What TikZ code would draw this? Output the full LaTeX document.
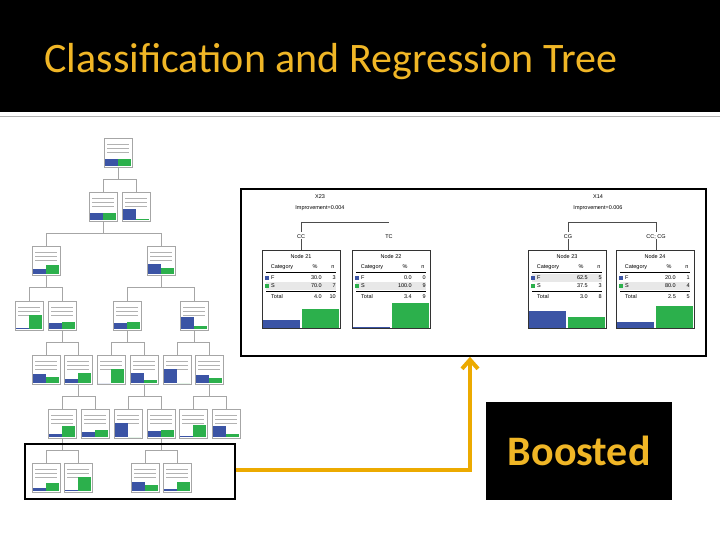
\documentclass[tikz,border=0pt]{standalone}
\usepackage{fontspec}
\setmainfont{Carlito}
\newfontfamily\tabfont{Liberation Sans}
\usetikzlibrary{positioning,calc,arrows.meta}
\definecolor{titlegold}{RGB}{240,182,38}
\definecolor{arrorange}{RGB}{236,170,0}
\definecolor{catblue}{RGB}{59,84,165}
\definecolor{catgreen}{RGB}{44,176,76}

% small tree node: name, x, y, blue bar, green bar
\newcommand{\mininode}[5]{%
  \node[mini] (#1) at (#2,#3) {};
  \draw[gray!60, line width=0.3pt] ($(#1.north west)+(3,6)$) -- ++(22,0)
    ($(#1.north west)+(3,10)$) -- ++(22,0) ($(#1.north west)+(3,14)$) -- ++(22,0);
  \fill[catblue] ($(#1.south west)+(1,-1)$) rectangle ++(13,-#4);
  \fill[catgreen] ($(#1.south west)+(14,-1)$) rectangle ++(13,-#5);
}
% large tree node
\newcommand{\bignode}[9]{%
  \begin{scope}[shift={(#1)}]
  \fill[gray!18] (4,#9-4) rectangle (74,#9+4);
  \node[tab] at (39,7) {#2};
  \node[tab] at (20,17) {Category}; \node[tab] at (53,17) {\%}; \node[tab] at (71,17) {n};
  \draw[thin] (4,22) -- (74,22);
  \fill[catblue] (3,26) rectangle (7,30); \node[tab, anchor=west] at (9,28) {F};
  \node[tab, anchor=east] at (60,28) {#3}; \node[tab, anchor=east] at (74,28) {#4};
  \fill[catgreen] (3,34) rectangle (7,38); \node[tab, anchor=west] at (9,36) {S};
  \node[tab, anchor=east] at (60,36) {#5}; \node[tab, anchor=east] at (74,36) {#6};
  \draw[thin] (4,41) -- (74,41);
  \node[tab, anchor=west] at (9,47) {Total};
  \node[tab, anchor=east] at (60,47) {#7}; \node[tab, anchor=east] at (74,47) {#8};
  \end{scope}}

\begin{document}
\begin{tikzpicture}[x=1pt, y=-1pt,
  mini/.style={draw=gray!70, line width=0.4pt, minimum width=28pt, minimum height=29pt,
    inner sep=0pt, anchor=north west},
  big/.style={draw=black!80, line width=1pt, minimum width=78pt, minimum height=78pt,
    inner sep=0pt, anchor=north west},
  tab/.style={font=\tabfont\fontsize{5.5}{6}\selectfont, inner sep=0pt},
  branch/.style={gray!70, line width=0.4pt},
  bigbranch/.style={black!70, line width=0.6pt}]
\useasboundingbox (0,0) rectangle (720,540);

% title bar
\fill[black] (0,0) rectangle (720,112);
\node[anchor=west, text=titlegold, font=\fontsize{42}{46}\selectfont] (title) at (41,62)
  {Classification and Regression Tree};
\draw[gray!60, line width=0.8pt] (0,116) -- (720,116);

% small tree
\mininode{r}{104}{138}{7}{7}
\mininode{a1}{89}{192}{7}{7}
\mininode{a2}{122}{192}{11}{1}
\mininode{b1}{32}{246}{5}{9}
\mininode{b2}{147}{246}{10}{6}
\mininode{c1}{15}{301}{1}{14}
\mininode{c2}{48}{301}{6}{7}
\mininode{c3}{113}{301}{6}{7}
\mininode{c4}{180}{301}{12}{3}
\mininode{d1}{32}{355}{9}{6}
\mininode{d2}{64}{355}{4}{10}
\mininode{d3}{97}{355}{0}{14}
\mininode{d4}{130}{355}{10}{3}
\mininode{d5}{163}{355}{14}{0}
\mininode{d6}{195}{355}{8}{5}
\mininode{e1}{48}{409}{3}{11}
\mininode{e2}{81}{409}{5}{7}
\mininode{e3}{114}{409}{14}{0}
\mininode{e4}{147}{409}{6}{7}
\mininode{e5}{179}{409}{1}{12}
\mininode{e6}{212}{409}{11}{3}
\mininode{f1}{32}{463}{3}{8}
\mininode{f2}{64}{463}{1}{14}
\mininode{f3}{131}{463}{9}{6}
\mininode{f4}{163}{463}{2}{9}

\foreach \p/\u/\v in {r/a1/a2, a1/b1/b2, b1/c1/c2, b2/c3/c4, c2/d1/d2, c3/d3/d4,
    c4/d5/d6, d2/e1/e2, d4/e3/e4, d6/e5/e6, e1/f1/f2, e4/f3/f4}{
  \draw[branch] (\p.south) -- ++(0,12) coordinate (\p-m);
  \draw[branch] (\u.north) |- (\p-m) -| (\v.north);
}
\node[draw=black, line width=1.5pt, minimum width=210pt, minimum height=55pt,
  inner sep=0pt, anchor=north west] (zoomframe) at (24,443) {};

% enlarged panel
\node[draw=black, line width=1.8pt, minimum width=465pt, minimum height=167pt,
  inner sep=0pt, anchor=north west] (panel) at (240,188) {};
\node[big] (n21) at (262,250) {};
\node[big] (n22) at (352,250) {};
\node[big] (n23) at (528,250) {};
\node[big] (n24) at (616,250) {};
\bignode{262,250}{Node 21}{30.0}{3}{70.0}{7}{4.0}{10}{36}
\bignode{352,250}{Node 22}{0.0}{0}{100.0}{9}{3.4}{9}{36}
\bignode{528,250}{Node 23}{62.5}{5}{37.5}{3}{3.0}{8}{28}
\bignode{616,250}{Node 24}{20.0}{1}{80.0}{4}{2.5}{5}{36}
\foreach \n/\b/\g in {n21/8/19, n22/1/25, n23/17/11, n24/6/22}{
  \fill[catblue] ($(\n.south west)+(1,-1)$) rectangle ++(37,-\b);
  \fill[catgreen] ($(\n.south west)+(40,-1)$) rectangle ++(37,-\g);
}
\node[tab] (s23) at (320,197) {X23};
\node[tab] (i23) at (320,208) {Improvement=0.004};
\node[tab] (s14) at (598,197) {X14};
\node[tab] (i14) at (598,208) {Improvement=0.006};
\coordinate (m23) at (301,222);
\coordinate (m14) at (568,222);
\draw[bigbranch] (m23) -- ++(88,0);
\draw[bigbranch] (m14) -- ++(88,0) -- ++(0,10);
\draw[bigbranch] (m14) -- ++(0,10);
\draw[bigbranch] (m23) -- ++(0,10);
\node[tab] (l21) at (301,237) {CC};
\node[tab] (l22) at (389,237) {TC};
\node[tab] (l23) at (568,237) {CG};
\node[tab] (l24) at (656,237) {CC; CG};
\draw[bigbranch] (l21) -- (l21 |- n21.north);
\draw[bigbranch] (l23) -- (l23 |- n23.north);
\draw[bigbranch] (l24) -- (l24 |- n24.north);

% boosted
\node[fill=black, minimum width=186pt, minimum height=98pt, anchor=north west,
  text=titlegold, font=\bfseries\fontsize{42}{46}\selectfont] (boost) at (486,402) {Boosted};
\coordinate (bend) at (470,470);
\draw[arrorange, line width=4pt, -{Straight Barb[length=9pt, width=16pt]}]
  (zoomframe.east |- bend) -- (bend) -- (panel.south -| bend);
\end{tikzpicture}
\end{document}
